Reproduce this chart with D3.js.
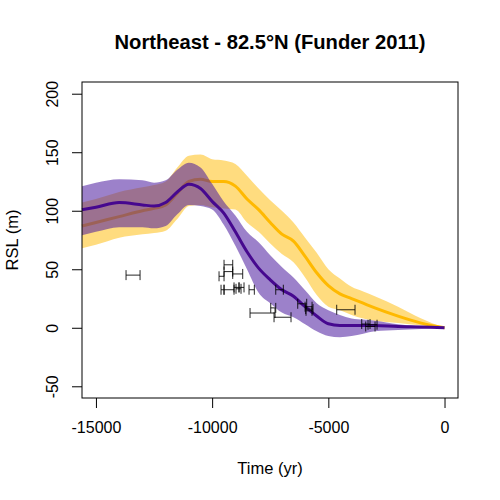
<!DOCTYPE html>
<html>
<head>
<meta charset="utf-8">
<script src="https://cdn.jsdelivr.net/npm/d3@7"></script>
<style>
  html, body { margin: 0; padding: 0; background: #fff; }
  svg { display: block; }
  text { font-family: "Liberation Sans", Arial, sans-serif; fill: #000; }
</style>
</head>
<body>
<svg id="chart" width="500" height="500"></svg>
<script>
var time = [-15600, -15000, -14000, -13000, -12500, -12000, -11500, -11000, -10500, -10000, -9500, -9000, -8500, -8000, -7500, -7000, -6500, -6000, -5500, -5000, -4500, -4000, -3500, -3000, -2000, -1000, 0];

var purpleMean = [100.8, 103, 107, 105, 104, 107, 116, 122.6, 119, 108, 98, 82, 65, 51, 41, 32.5, 27, 18, 10, 3.4, 2, 2, 2, 2, 1, 0.7, 0];
var purpleUpper = [121, 124, 127, 126, 124, 126, 135, 141, 137, 123, 108, 96, 82, 73, 62, 52, 43, 32, 21, 15, 11, 8, 7, 6, 3, 1, 0];
var purpleLower = [79, 82, 86, 86, 85, 87, 97, 105, 104, 101, 88, 70, 50, 30, 21, 13, 9, 3, -3, -7, -8, -7, -5, -3, -2, -1, 0];

var yellowMean = [87, 90, 95, 100, 102, 105, 115, 125, 127, 125, 125, 121, 110, 101, 90, 80, 74, 61, 47, 36, 29, 25, 21, 17, 10, 4, 0];
var yellowUpper = [107, 110, 116, 120, 122, 125, 137, 147, 148, 144, 143, 140, 130, 119, 109, 100, 90, 77, 64, 50, 42, 35, 31, 27, 18, 8, 0];
var yellowLower = [68, 71, 77, 80, 81, 83, 93, 104, 105, 103, 102, 101, 90, 82, 72, 63, 56, 43, 28, 18, 15, 11, 8, 6, 4, 2, 0];

// observations: age range and RSL
var obsFrom = [-13705, -9488, -9488, -9114, -9703, -9617, -9488, -9058, -8843, -8972, -8412, -7263, -8369, -7478, -7336, -6317, -5973, -5960, -6000, -4639, -3563, -3391, -3292];
var obsTo = [-13102, -9114, -9114, -8684, -9488, -9488, -9058, -8843, -8628, -8757, -8184, -6936, -7293, -7263, -6605, -5930, -5658, -5702, -5700, -3851, -3206, -2990, -2904];
var obsRsl = [45, 53.8, 48, 46, 44, 32.5, 32.5, 34.5, 34.5, 33.3, 32.5, 32.5, 12.6, 17, 9, 20.5, 16, 14.5, 18, 15.4, 3.2, 1.1, 2.6];

var xTicks = [-15000, -10000, -5000, 0];
var yTicks = [-50, 0, 50, 100, 150, 200];

var svg = d3.select('#chart');

var x = d3.scaleLinear().domain([-15600, 580]).range([82, 458]);
var y = d3.scaleLinear().domain([-60, 210]).range([398, 82]);

function band(upper, lower) {
  return d3.area()
    .x(function(d, i) { return x(time[i]) })
    .y0(function(d, i) { return y(lower[i]) })
    .y1(function(d, i) { return y(upper[i]) })
    .curve(d3.curveMonotoneX)(time);
}

var line = d3.line()
  .x(function(d, i) { return x(time[i]) })
  .y(function(d) { return y(d) })
  .curve(d3.curveMonotoneX);

// Yellow goes first, the purple band sits over it
svg.append('path').attr('d', band(yellowUpper, yellowLower))
  .attr('fill', '#ffb900').attr('fill-opacity', 0.5);
svg.append('path').datum(yellowMean).attr('d', line)
  .attr('fill', 'none').attr('stroke', '#ffb900').attr('stroke-width', 3);
svg.append('path').attr('d', band(purpleUpper, purpleLower))
  .attr('fill', '#4b1a9e').attr('fill-opacity', 0.55);
svg.append('path').datum(purpleMean).attr('d', line)
  .attr('fill', 'none').attr('stroke', '#46088f').attr('stroke-width', 3);

// Error bars
var bars = svg.append('g').attr('stroke', '#000').attr('stroke-opacity', 0.85).attr('stroke-width', 1);
obsRsl.forEach(function(v, i) {
  var cy = y(v);
  bars.append('line').attr('x1', x(obsFrom[i])).attr('x2', x(obsTo[i])).attr('y1', cy).attr('y2', cy);
  bars.append('line').attr('x1', x(obsFrom[i])).attr('x2', x(obsFrom[i])).attr('y1', cy - 5).attr('y2', cy + 5);
  bars.append('line').attr('x1', x(obsTo[i])).attr('x2', x(obsTo[i])).attr('y1', cy - 5).attr('y2', cy + 5);
});

// X axis
var xAxis = svg.append('g')
  .attr('transform', 'translate(0, 398)')
  .call(d3.axisBottom(x).tickValues(xTicks).tickSize(10).tickPadding(14).tickFormat(String));
xAxis.select('.domain').remove();
xAxis.selectAll('line').attr('stroke', '#000').attr('stroke-width', 1);
xAxis.selectAll('text').attr('font-size', 16);

// Y axis, labels turned as in base R
var yAxis = svg.append('g')
  .attr('transform', 'translate(82, 0)')
  .call(d3.axisLeft(y).tickValues(yTicks).tickSize(10).tickFormat(String));
yAxis.select('.domain').remove();
yAxis.selectAll('line').attr('stroke', '#000').attr('stroke-width', 1);
yAxis.selectAll('text')
  .attr('font-size', 16)
  .attr('x', null).attr('dy', null)
  .attr('text-anchor', 'middle')
  .attr('transform', function(d) { return 'translate(-24.5, 0) rotate(-90)' });

svg.append('rect')
  .attr('x', 82).attr('y', 82).attr('width', 376).attr('height', 316)
  .attr('fill', 'none').attr('stroke', '#000').attr('stroke-width', 1);

svg.append('text').attr('x', 270).attr('y', 49).attr('text-anchor', 'middle')
  .attr('font-size', 20.2).attr('font-weight', 'bold')
  .text('Northeast - 82.5°N (Funder 2011)');
svg.append('text').attr('x', 270).attr('y', 474).attr('text-anchor', 'middle')
  .attr('font-size', 16.5).text('Time (yr)');
svg.append('text').attr('transform', 'translate(18, 240) rotate(-90)').attr('text-anchor', 'middle')
  .attr('font-size', 16.5).text('RSL (m)');
</script>
</body>
</html>
